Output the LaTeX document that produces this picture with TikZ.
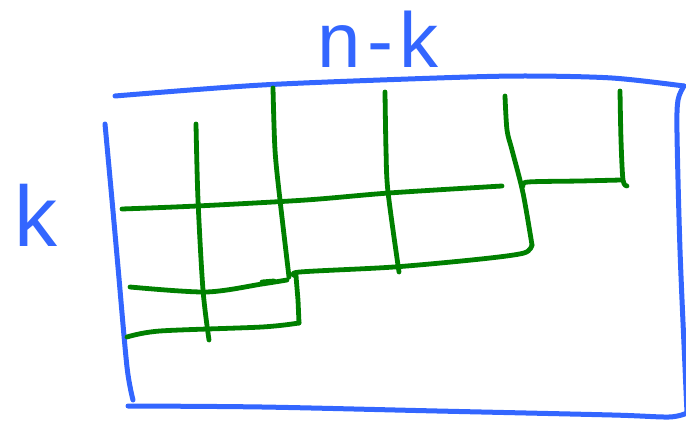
\documentclass[tikz,border=0pt]{standalone}
\usepackage{fontspec}
\setmainfont{Liberation Sans}
\usepackage{tikz}
\definecolor{penblue}{HTML}{3366FF}
\definecolor{pengreen}{HTML}{008000}

\begin{document}
\begin{tikzpicture}[x=1pt,y=-1pt,
  frame/.style={penblue,line width=5pt,line cap=round,line join=round},
  grid/.style={pengreen,line width=4.8pt,line cap=round,line join=round},
  hand/.style={penblue,inner sep=0pt,anchor=base}]
  \useasboundingbox (0,0) rectangle (686,422);

  % labels
  \node[hand,font=\fontsize{78}{82}\selectfont] (nk) at (378,68) {n\kern6pt-\kern6pt k};
  \node[hand,font=\fontsize{86}{90}\selectfont] (k) at (36,247) {k};

  % outer box
  \draw[frame] plot[smooth] coordinates {(115,96) (262,85) (437,78) (525,76) (612,78) (684,86)};
  \draw[frame] plot[smooth] coordinates {(684,86) (678,100) (677,133) (680,250) (685,367) (687,413)};
  \draw[frame] plot[smooth] coordinates {(105,124) (112,200) (118,267) (127,367) (133,400)};
  \draw[frame] plot[smooth] coordinates {(128,406) (262,407) (437,411) (612,415) (669,417) (687,413)};

  % columns
  \draw[grid] plot[smooth] coordinates {(196,124) (198,200) (203,290) (209,340)};
  \draw[grid] plot[smooth] coordinates {(273,88) (275,150) (280,200) (289,277)};
  \draw[grid] plot[smooth] coordinates {(385,92) (386,150) (388,192) (399,272)};
  \draw[grid] plot[smooth] coordinates {(505,96) (507,130) (512,150) (523,193) (532,245)};
  \draw[grid] plot[smooth] coordinates {(620,91) (621,140) (623,180) (627,186)};

  % rows
  \draw[grid] plot[smooth] coordinates {(122,209) (197,206) (306,200) (389,193) (502,186)};
  \draw[grid] plot[smooth] coordinates {(523,186) (528,182) (580,181) (621,180)};
  \draw[grid] plot[smooth] coordinates {(130,287) (206,292) (262,284) (287,280)};
  \draw[grid] (262,282) -- (274,281);

  % staircase edge
  \draw[grid] plot[smooth,tension=0.5] coordinates {(532,245) (524,253) (481,259) (394,267) (300,272) (296,276)};
  \draw[grid] (296,276) -- (298,300) -- (299,323);
  \draw[grid] plot[smooth] coordinates {(299,323) (262,327) (160,331) (127,337)};
\end{tikzpicture}
\end{document}
